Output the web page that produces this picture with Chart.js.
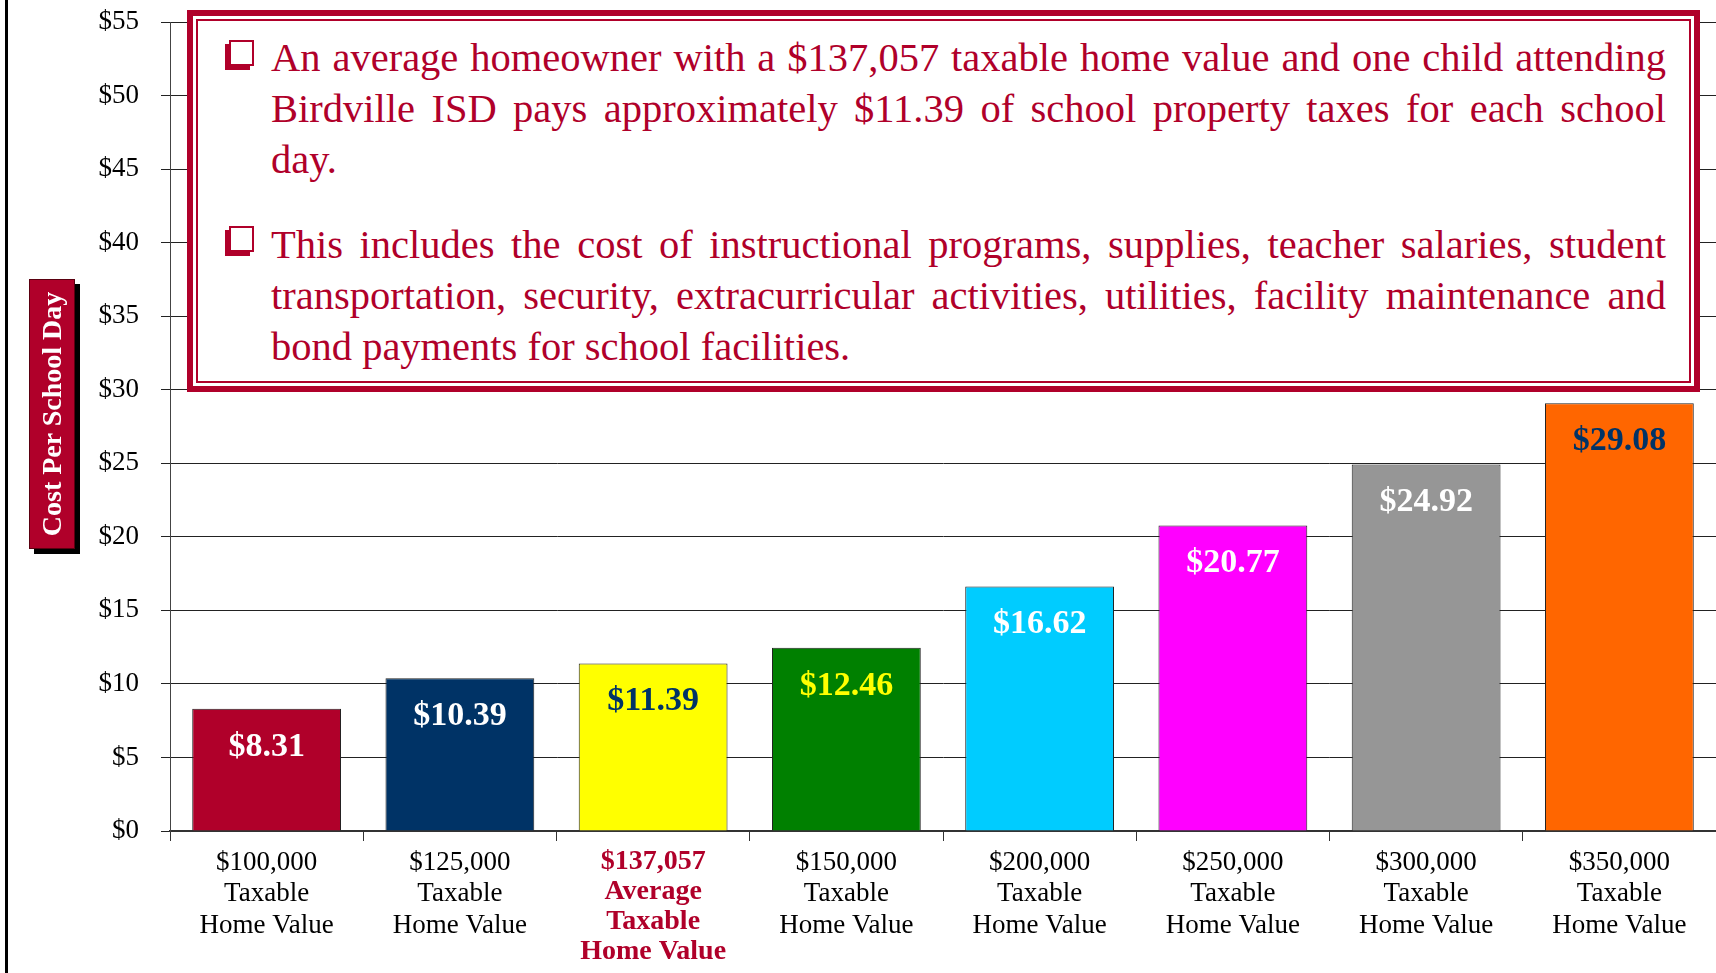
<!DOCTYPE html>
<html>
<head>
<meta charset="utf-8">
<script src="https://cdn.jsdelivr.net/npm/chart.js@4.4.1/dist/chart.umd.min.js"></script>
<style>
  html, body { margin: 0; padding: 0; background: #fff; }
  #wrap { position: relative; width: 1716px; height: 973px; overflow: hidden; font-family: "Liberation Serif", "DejaVu Serif", serif; }
  #chart { position: absolute; left: 0; top: 0; }
  .frame-line { position: absolute; left: 5px; top: 0; width: 3px; height: 973px; background: #000; }
  .ytitle { position: absolute; left: 29px; top: 279px; width: 46px; height: 270px; background: #B0002A;
            border: 1px solid #5a0010; box-sizing: border-box; box-shadow: 5px 5px 0 #000; }
  .ytitle span { position: absolute; left: 50%; top: 50%; transform: translate(-50%, -50%) rotate(-90deg);
                 white-space: nowrap; color: #fff; font-weight: bold; font-size: 28px; }
  .note { position: absolute; left: 187px; top: 10px; width: 1513px; height: 382px; box-sizing: border-box;
          border: 6px solid #B0002A; background: #fff; }
  .note .inner { position: absolute; left: 3px; top: 3px; right: 3px; bottom: 3px; border: 2px solid #B0002A; }
  .note .text { position: absolute; left: 78px; top: 16px; width: 1395px; color: #B0002A; font-size: 40.5px;
                line-height: 51px; word-spacing: -4px; }
  .note .text .ln { white-space: nowrap; text-align: justify; text-align-last: justify; }
  .note .text .ln.last { text-align-last: left; word-spacing: 0; }
  .note .text .para + .para { margin-top: 34px; }
  .bullet { position: absolute; width: 25px; height: 26px; box-sizing: border-box; border: 2px solid #B0002A;
            box-shadow: -4px 4px 0 #B0002A; background: #fff; }
</style>
</head>
<body>
<div id="wrap">
  <canvas id="chart" width="1716" height="973"></canvas>
  <div class="frame-line"></div>
  <div class="ytitle"><span>Cost Per School Day</span></div>
  <div class="note">
    <div class="inner"></div>
    <div class="bullet" style="left:36px; top:24px;"></div>
    <div class="bullet" style="left:36px; top:210px;"></div>
    <div class="text">
      <div class="para">
        <div class="ln">An average homeowner with a $137,057 taxable home value and one child attending</div>
        <div class="ln">Birdville ISD pays approximately $11.39 of school property taxes for each school</div>
        <div class="ln last">day.</div>
      </div>
      <div class="para">
        <div class="ln">This includes the cost of instructional programs, supplies, teacher salaries, student</div>
        <div class="ln">transportation, security, extracurricular activities, utilities, facility maintenance and</div>
        <div class="ln last">bond payments for school facilities.</div>
      </div>
    </div>
  </div>
</div>
<script>
// categories (multi-line tick labels)
const categories = [
    ['$100,000', 'Taxable', 'Home Value'],
    ['$125,000', 'Taxable', 'Home Value'],
    ['$137,057', 'Average', 'Taxable', 'Home Value'],
    ['$150,000', 'Taxable', 'Home Value'],
    ['$200,000', 'Taxable', 'Home Value'],
    ['$250,000', 'Taxable', 'Home Value'],
    ['$300,000', 'Taxable', 'Home Value'],
    ['$350,000', 'Taxable', 'Home Value']
];

// cost per school day
const costPerDay = [8.31, 10.39, 11.39, 12.46, 16.62, 20.77, 24.92, 29.08];

const barColors = ['#B0002A', '#003366', '#FFFF00', '#008000', '#00CCFF', '#FF00FF', '#969696', '#FF6600'];
const valueColors = ['#FFFFFF', '#FFFFFF', '#003366', '#FFFF00', '#FFFFFF', '#FFFFFF', '#FFFFFF', '#003366'];

// y axis ticks
const yMax = 55;
const yStep = 5;

const highlightIndex = 2;
const SERIF = '"Liberation Serif", "DejaVu Serif", serif';

// value labels inside the top of each bar
const valueLabels = {
    id: 'valueLabels',
    afterDatasetsDraw(chart) {
        const ctx = chart.ctx;
        const meta = chart.getDatasetMeta(0);
        ctx.save();
        ctx.font = 'bold 34px ' + SERIF;
        ctx.textAlign = 'center';
        ctx.textBaseline = 'middle';
        meta.data.forEach((bar, i) => {
            ctx.fillStyle = valueColors[i];
            ctx.fillText('$' + costPerDay[i].toFixed(2), bar.x, bar.y + 38);
        });
        ctx.restore();
    }
};

new Chart(document.getElementById('chart'), {
    type: 'bar',
    data: {
        labels: categories,
        datasets: [{
            data: costPerDay,
            backgroundColor: barColors,
            borderColor: '#222',
            borderWidth: 1,
            categoryPercentage: 1,
            barPercentage: 0.77
        }]
    },
    options: {
        responsive: false,
        animation: false,
        layout: { padding: { top: 22, right: 0, left: 0, bottom: 0 } },
        plugins: {
            legend: { display: false },
            tooltip: { enabled: false }
        },
        scales: {
            x: {
                afterFit: scale => { scale.height = 142; },
                border: { color: '#333', width: 2 },
                grid: {
                    offset: true,
                    drawOnChartArea: false,
                    drawTicks: true,
                    tickLength: 10,
                    color: '#333'
                },
                ticks: {
                    padding: 6,
                    maxRotation: 0,
                    autoSkip: false,
                    color: ctx => ctx.index === highlightIndex ? '#B0002A' : '#000',
                    font: ctx => ctx.index === highlightIndex
                        ? { family: SERIF, size: 28, weight: 'bold', lineHeight: 1.07 }
                        : { family: SERIF, size: 27, weight: 'normal', lineHeight: 1.17 }
                }
            },
            y: {
                min: 0,
                max: yMax,
                afterFit: scale => {
                    scale.width = 170;
                    scale.paddingTop = 0;
                    scale.paddingBottom = 0;
                },
                border: { color: '#444', width: 1 },
                grid: {
                    color: '#222',
                    lineWidth: 1,
                    drawTicks: true,
                    tickLength: 9
                },
                ticks: {
                    stepSize: yStep,
                    padding: 22,
                    color: '#000',
                    font: { family: SERIF, size: 27 },
                    callback: v => '$' + v
                }
            }
        }
    },
    plugins: [valueLabels]
});
</script>
</body>
</html>
